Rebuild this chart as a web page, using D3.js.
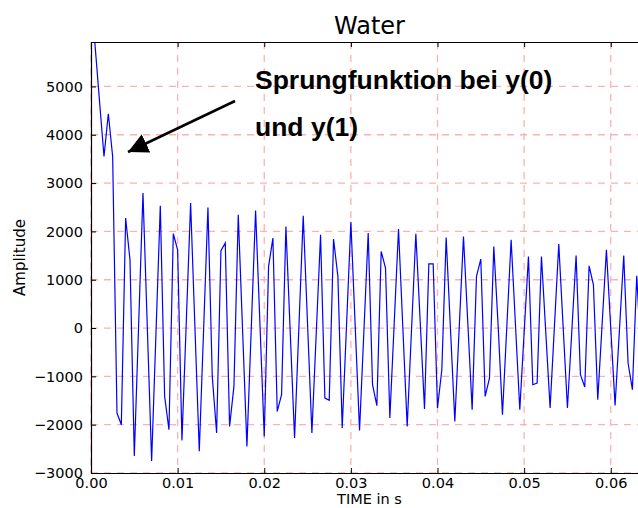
<!DOCTYPE html>
<html>
<head>
<meta charset="utf-8">
<script src="https://cdn.jsdelivr.net/npm/d3@7"></script>
<style>
  body { margin: 0; background: #fff; }
  svg { display: block; }
  .tick text { font-family: "DejaVu Sans", sans-serif; }
</style>
</head>
<body>
<div id="chart"></div>
<script>
// sample interval of the recording (s)
var sampleStep = 0.0005

// amplitude samples
var amplitude = [
  6900, 5780, 4660, 3550, 4434, 3550, -1759, -2000, 2276, 1413,
  -2650, 70, 2793, 20, -2750, -110, 2530, -1414, -2104, 1951,
  1620, -2325, 130, 2586, 0, -2550, -30, 2496, -1000, -2173,
  1600, 1760, -2035, -1207, 2345, -50, -2449, -10, 2434, 100,
  -2243, 1276, 1862, -1725, -1380, 2103, -90, -2276, 20, 2324,
  80, -2173, -120, 1931, -1449, -1497, 1841, 1069, -2069, 60,
  2193, 40, -2118, -80, 1966, -1173, -1608, 1586, 1241, -1862,
  90, 2048, 0, -2035, -40, 1951, 140, -1676, 1330, 1330,
  -1655, -862, 1875, -30, -1932, -20, 1896, 100, -1690, 1069,
  1427, -1414, -1035, 1689, 50, -1794, 20, 1827, 70, -1690,
  -100, 1482, -1173, -1138, 1482, -90, -1655, 40, 1738, 40,
  -1655, -80, 1503, -966, -1221, 1289, 896, -1483, 70, 1620,
  0, -1600, -50, 1503, -724, -1276, 1082, -600
]

var xTicks = [0, 0.01, 0.02, 0.03, 0.04, 0.05, 0.06]
var yTicks = [-3000, -2000, -1000, 0, 1000, 2000, 3000, 4000, 5000]

var chartTitle = "Water"
var xTitle = "TIME in s"
var yTitle = "Amplitude"
var noteLines = ["Sprungfunktion bei y(0)", "und y(1)"]

var width = 638, height = 508
var margin = { top: 42, right: -10, bottom: 35, left: 91 }
var innerW = width - margin.left - margin.right
var innerH = height - margin.top - margin.bottom

var svg = d3.select("#chart").append("svg")
    .attr("width", width)
    .attr("height", height)

var g = svg.append("g")
    .attr("transform", "translate(" + margin.left + "," + margin.top + ")")

var xScale = d3.scaleLinear()
    .domain([0, 0.0643])
    .range([0, innerW])

var yScale = d3.scaleLinear()
    .domain([-3000, 5920])
    .range([innerH, 0])

var fmtY = function(d) { return d3.format("d")(d).replace("-", "\u2212") }

// grid
g.selectAll(".vgrid")
    .data(xTicks)
    .enter().append("line")
    .attr("x1", function(d) { return xScale(d) })
    .attr("x2", function(d) { return xScale(d) })
    .attr("y1", 0)
    .attr("y2", innerH)
    .attr("stroke", "#ffb0b0")
    .attr("stroke-width", 1.3)
    .attr("stroke-dasharray", "7,6")

g.selectAll(".hgrid")
    .data(yTicks)
    .enter().append("line")
    .attr("x1", 0)
    .attr("x2", innerW)
    .attr("y1", function(d) { return yScale(d) })
    .attr("y2", function(d) { return yScale(d) })
    .attr("stroke", "#ffb0b0")
    .attr("stroke-width", 1.3)
    .attr("stroke-dasharray", "7,6")

// line, clipped to the axes
g.append("clipPath").attr("id", "clip")
  .append("rect").attr("width", innerW).attr("height", innerH)

var line = d3.line()
    .x(function(d, i) { return xScale(i * sampleStep) })
    .y(function(d) { return yScale(d) })

g.append("path")
    .datum(amplitude)
    .attr("clip-path", "url(#clip)")
    .attr("fill", "none")
    .attr("stroke", "#0000ff")
    .attr("stroke-width", 1.2)
    .attr("d", line)

// axes (ticks point inward, classic style)
var xAxis = d3.axisBottom(xScale).tickValues(xTicks)
    .tickFormat(d3.format(".2f")).tickSizeInner(-5).tickSizeOuter(0).tickPadding(5)
var xAxisG = g.append("g")
    .attr("transform", "translate(0," + innerH + ")")
    .call(xAxis)

var xTop = d3.axisTop(xScale).tickValues(xTicks)
    .tickFormat("").tickSizeInner(-5).tickSizeOuter(0)
var xTopG = g.append("g").call(xTop)

var yAxis = d3.axisLeft(yScale).tickValues(yTicks)
    .tickFormat(fmtY).tickSizeInner(-5).tickSizeOuter(0).tickPadding(8)
var yAxisG = g.append("g").call(yAxis)

;[xAxisG, xTopG, yAxisG].forEach(function(a) {
  a.select(".domain").attr("stroke", "#000").attr("stroke-width", 1.2)
  a.selectAll(".tick line").attr("stroke", "#000")
  a.selectAll(".tick text").attr("font-size", "14.5px").attr("fill", "#000")
})

// titles
svg.append("text")
    .attr("x", margin.left + innerW / 2)
    .attr("y", 34)
    .attr("text-anchor", "middle")
    .attr("font-family", "DejaVu Sans, sans-serif")
    .attr("font-size", "24px")
    .text(chartTitle)

svg.append("text")
    .attr("x", margin.left + innerW / 2)
    .attr("y", 504)
    .attr("text-anchor", "middle")
    .attr("font-family", "DejaVu Sans, sans-serif")
    .attr("font-size", "14.5px")
    .text(xTitle)

svg.append("text")
    .attr("transform", "translate(25," + (margin.top + innerH / 2) + ") rotate(-90)")
    .attr("text-anchor", "middle")
    .attr("font-family", "DejaVu Sans, sans-serif")
    .attr("font-size", "15px")
    .text(yTitle)

// annotation
svg.selectAll(".note")
    .data(noteLines)
    .enter().append("text")
    .attr("x", 255)
    .attr("y", function(d, i) { return 89 + i * 47 })
    .attr("font-family", "Liberation Sans, Arial, sans-serif")
    .attr("font-weight", "bold")
    .attr("font-size", "26.5px")
    .text(function(d) { return d })

svg.append("defs").append("marker")
    .attr("id", "head")
    .attr("viewBox", "0 0 10 10")
    .attr("refX", 10).attr("refY", 5)
    .attr("markerWidth", 20).attr("markerHeight", 20)
    .attr("markerUnits", "userSpaceOnUse")
    .attr("orient", "auto")
  .append("path")
    .attr("d", "M0,0 L10,5 L0,10 z")
    .attr("fill", "#000")

svg.append("line")
    .attr("x1", 235).attr("y1", 101)
    .attr("x2", 128).attr("y2", 152)
    .attr("stroke", "#000")
    .attr("stroke-width", 2.5)
    .attr("marker-end", "url(#head)")
</script>
</body>
</html>
